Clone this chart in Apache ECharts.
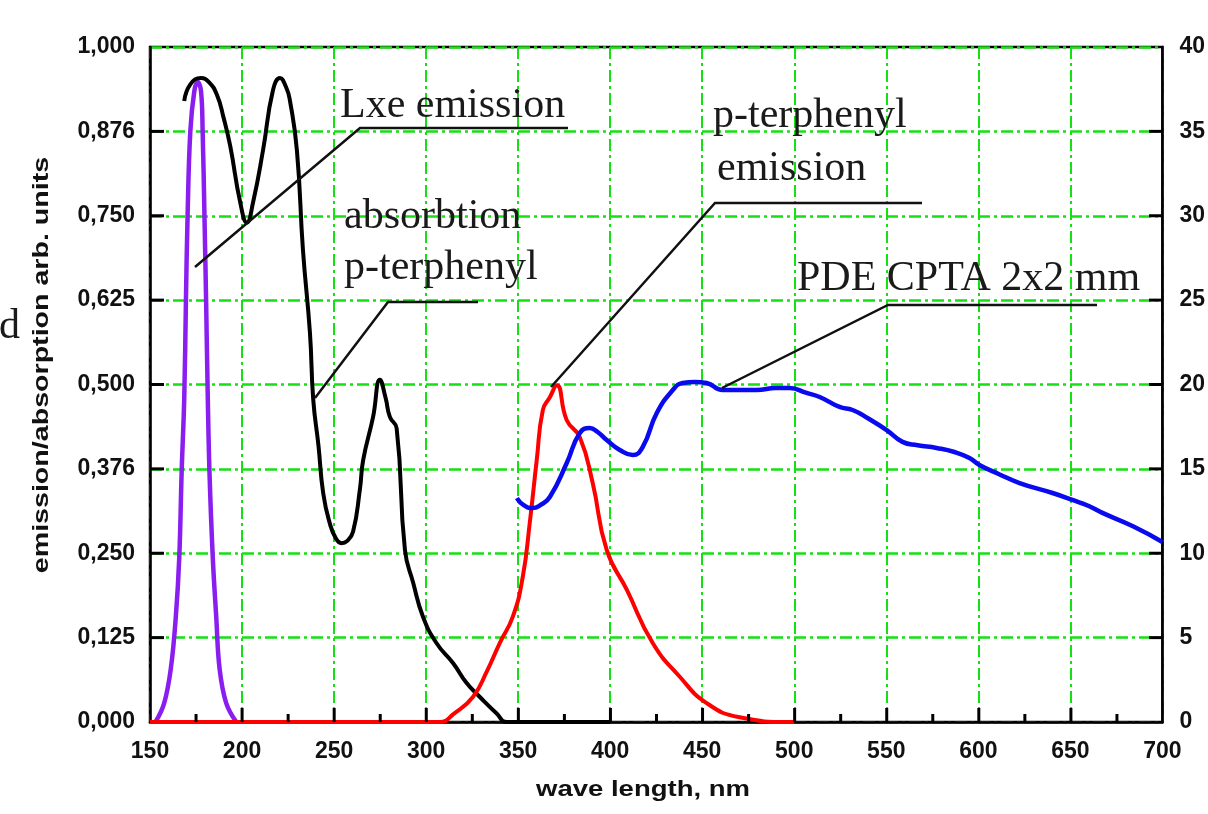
<!DOCTYPE html>
<html>
<head>
<meta charset="utf-8">
<script src="https://cdn.jsdelivr.net/npm/echarts@6/dist/echarts.min.js"></script>
<style>
  html, body { margin: 0; padding: 0; background: #fff; }
  #chart { width: 1208px; height: 814px; }
</style>
</head>
<body>
<div id="chart"></div>
<script>
// tick labels (left axis labels are written as in the original plot)
var leftLabels = ['0,000', '0,125', '0,250', '0,376', '0,500', '0,625', '0,750', '0,876', '1,000'];

// LXe emission (purple), left axis
var lxeNm  = [153, 157.7, 161.3, 164, 165.9, 167.2, 168.6, 169.5, 170.4, 171.9, 174.1, 175.9, 177.7, 178.6, 179.6, 180.5, 181.4, 182.3, 184.1, 186, 187.8, 191.4, 196.9];
var lxeVal = [0, 0.028, 0.079, 0.155, 0.244, 0.371, 0.479, 0.621, 0.748, 0.875, 0.935, 0.948, 0.935, 0.875, 0.748, 0.621, 0.479, 0.371, 0.244, 0.155, 0.079, 0.028, 0];

// p-terphenyl absorption (black), left axis
var absNm  = [168.6, 172, 177.7, 182, 186.4, 190, 193.6, 199, 202.6, 206, 211.4, 216.8, 220.6, 224, 226, 229.8, 233.1, 236.9, 238.7, 241.5, 244.1, 247.7, 251, 254, 257, 260.3, 264, 265.8, 271.2, 274.9, 278, 280.3, 284, 288.5, 293, 298.3, 305.6, 314.7, 321.9, 329.2, 338.2, 344, 400];
var absVal = [0.92, 0.945, 0.954, 0.948, 0.929, 0.895, 0.853, 0.77, 0.74, 0.77, 0.847, 0.936, 0.954, 0.94, 0.921, 0.847, 0.699, 0.576, 0.477, 0.41, 0.339, 0.294, 0.272, 0.265, 0.268, 0.282, 0.344, 0.388, 0.452, 0.507, 0.48, 0.452, 0.435, 0.255, 0.206, 0.156, 0.117, 0.087, 0.058, 0.037, 0.013, 0, 0];

// p-terphenyl emission (red), left axis
var ptpNm  = [150, 300, 307.5, 315, 325.4, 333, 340, 347.1, 352.5, 356.3, 360.1, 363.4, 367.2, 371, 376.4, 383.5, 390.5, 398.1, 409, 423.1, 437.8, 452.4, 470.3, 497.5, 500];
var ptpVal = [0, 0, 0, 0.012, 0.037, 0.075, 0.117, 0.156, 0.215, 0.295, 0.388, 0.462, 0.481, 0.499, 0.447, 0.422, 0.354, 0.255, 0.196, 0.117, 0.067, 0.028, 0.007, 0, 0];

// PDE CPTA 2x2 mm (blue), right axis
var pdeNm  = [349.3, 353, 357.9, 362, 367.2, 376.4, 383.5, 388.9, 393, 398.1, 405.2, 412.2, 417.7, 425.3, 434, 439.4, 446, 452.4, 461.1, 470, 479.6, 490, 497.5, 506.7, 513.8, 524.6, 531.7, 540, 550.2, 558.8, 567, 577.3, 587, 595.2, 600.6, 611, 622.4, 640.3, 651.1, 660, 667.4, 684, 700];
var pdeVal = [13.27, 12.85, 12.68, 12.85, 13.33, 15.35, 17.13, 17.42, 17.2, 16.71, 16.12, 15.82, 16.3, 18.31, 19.67, 20.09, 20.15, 20.09, 19.67, 19.67, 19.67, 19.8, 19.79, 19.5, 19.26, 18.67, 18.49, 18.0, 17.3, 16.6, 16.4, 16.24, 16.0, 15.64, 15.23, 14.7, 14.16, 13.57, 13.16, 12.8, 12.39, 11.6, 10.67];

function zip(xs, ys) {
  return xs.map(function (x, i) { return [x, ys[i]]; });
}

// plot box in pixels
var G = { left: 150, right: 45, top: 47, bottom: 92 };
var W = 1208, H = 814;
var x0 = G.left, x1 = W - G.right, y0 = H - G.bottom, y1 = G.top;

var green = '#14e014';
var gridDash = [12, 4, 3, 4];
var tickFont = { fontFamily: 'Liberation Sans', fontWeight: 'bold', fontSize: 23, color: '#111' };
var serif = '42px "Liberation Serif", "Times New Roman", serif';

function leader(points) {
  return { type: 'polyline', shape: { points: points }, style: { stroke: '#111', lineWidth: 2.5, fill: null }, z: 100 };
}
function note(text, x, y) {
  return { type: 'text', x: x, y: y, z: 100, style: { text: text, font: serif, fill: '#1a1a1a', align: 'left', verticalAlign: 'middle' } };
}
function tickRect(x, y, w, h) {
  return { type: 'rect', z: 100, shape: { x: x, y: y, width: w, height: h }, style: { fill: '#000' } };
}

var graphics = [
  // axis titles
  { type: 'text', x: 643, y: 790, scaleX: 1.25, style: { text: 'wave length, nm', font: 'bold 22px "Liberation Sans", Arial, sans-serif', fill: '#111', align: 'center', verticalAlign: 'middle' } },
  { type: 'text', x: 42, y: 365, rotation: Math.PI / 2, scaleX: 1.3, style: { text: 'emission/absorption arb. units', font: 'bold 22px "Liberation Sans", Arial, sans-serif', fill: '#111', align: 'center', verticalAlign: 'middle' } },
  // cut-off text at left edge
  { type: 'text', x: 20, y: 327, style: { text: 'd', font: serif, fill: '#1a1a1a', align: 'right', verticalAlign: 'middle' } },
  // annotations
  note('Lxe emission', 340, 106),
  leader([[568, 128], [360, 128], [195, 267]]),
  note('absorbtion', 344, 217),
  note('p-terphenyl', 344, 268),
  leader([[478, 302], [388, 302], [315, 398]]),
  note('p-terphenyl', 713, 116),
  note('emission', 717, 169),
  leader([[922, 203], [715, 203], [551, 387]]),
  note('PDE CPTA 2x2 mm', 797, 279),
  leader([[1097, 305], [888, 305], [722, 388]])
];

// inward axis ticks (x: every 25 nm, long every 50; y: every 0.125)
for (var s = 1; s < 22; s++) {
  var tx = x0 + (x1 - x0) * s / 22;
  var len = (s % 2 === 0) ? 14 : 8;
  graphics.push(tickRect(tx - 1.5, y0 - len, 3, len));
}
for (var k = 1; k < 8; k++) {
  var ty = y0 - (y0 - y1) * k / 8;
  graphics.push(tickRect(x0, ty - 1.5, 14, 3));
  graphics.push(tickRect(x1 - 14, ty - 1.5, 14, 3));
}

var chart = echarts.init(document.getElementById('chart'));
var option = {
  backgroundColor: '#fff',
  animation: false,
  grid: { left: G.left, right: G.right, top: G.top, bottom: G.bottom, show: true, borderColor: '#000', borderWidth: 2.5 },
  xAxis: {
    type: 'value', min: 150, max: 700, interval: 50,
    axisLine: { lineStyle: { color: '#000', width: 2.5 } },
    axisTick: { show: false },
    splitLine: { show: true, lineStyle: { color: green, width: 2, type: gridDash } },
    axisLabel: Object.assign({ margin: 18 }, tickFont)
  },
  yAxis: [{
    type: 'value', min: 0, max: 1, interval: 0.125,
    axisLine: { show: true, lineStyle: { color: '#000', width: 2.5 } },
    axisTick: { show: false },
    splitLine: { show: true, lineStyle: { color: green, width: 2.5, type: gridDash } },
    axisLabel: Object.assign({ margin: 15, formatter: function (v, i) { return leftLabels[i]; } }, tickFont)
  }, {
    type: 'value', min: 0, max: 40, interval: 5, position: 'right',
    axisLine: { show: true, lineStyle: { color: '#000', width: 2.5 } },
    axisTick: { show: false },
    splitLine: { show: false },
    axisLabel: Object.assign({ margin: 17 }, tickFont)
  }],
  series: [
    { name: 'LXe emission', type: 'line', data: zip(lxeNm, lxeVal), showSymbol: false, smooth: 0.4,
      lineStyle: { color: '#8a1ef0', width: 4.5 }, z: 3 },
    { name: 'absorbtion p-terphenyl', type: 'line', data: zip(absNm, absVal), showSymbol: false, smooth: 0.5,
      lineStyle: { color: '#000', width: 4 }, z: 4 },
    { name: 'p-terphenyl emission', type: 'line', data: zip(ptpNm, ptpVal), showSymbol: false, smooth: 0.5,
      lineStyle: { color: '#ff0000', width: 4 }, z: 5 },
    { name: 'PDE CPTA 2x2 mm', type: 'line', yAxisIndex: 1, data: zip(pdeNm, pdeVal), showSymbol: false, smooth: 0.5,
      lineStyle: { color: '#0a0aee', width: 4.5 }, z: 6 }
  ],
  graphic: graphics
};

chart.setOption(option);
</script>
</body>
</html>
